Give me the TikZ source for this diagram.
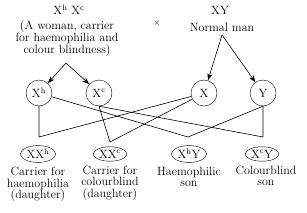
\documentclass[tikz,border=0pt]{standalone}
\usepackage{tikz}
\usetikzlibrary{
  arrows.meta,
  positioning,
  shapes.geometric
}
\newcommand{\allele}[1]{X\textsuperscript{#1}}

\begin{document}
\begin{tikzpicture}[
    >={Stealth[length=7pt, width=5pt]},
    x=1pt, y=-1pt,
    every node/.style={font=\fontsize{12}{11.8}\selectfont},
    gamete/.style={draw, circle, minimum size=26pt, inner sep=0pt},
    zygote/.style={draw, ellipse, inner sep=1pt},
    caption/.style={align=center, inner sep=1pt},
    link/.style={line width=0.6pt},
    pointer/.style={->, line width=0.6pt}
  ]
  \useasboundingbox (0,0) rectangle (307,212);

  %% --- Parents ---
  \node (mothergeno) at (69,10) {\allele{h} \allele{c}};
  \node[caption] (mothertext) at (67,38.5)
    {(A woman, carrier\\for haemophilia and\\colour blindness)};
  \node[font=\small] (cross) at (157,23) {$\times$};
  \node (fathergeno) at (220,10) {XY};
  \node (fathertext) at (222,27) {Normal man};

  \coordinate (msplit) at (66,63);
  \coordinate (fsplit) at (222,35);

  %% --- Gametes ---
  \node[gamete] (Xh) at (39,93)  {\allele{h}};
  \node[gamete] (Xc) at (99,93)  {\allele{c}};
  \node[gamete] (X)  at (204,93) {X};
  \node[gamete] (Y)  at (263,93) {Y};

  \draw[pointer] (msplit) -- (Xh);
  \draw[pointer] (msplit) -- (Xc);
  \draw[pointer] (fsplit) -- (X);
  \draw[pointer] (fsplit) -- (Y);

  %% --- Offspring ---
  \node[zygote] (XXh) at (38,154)  {X\allele{h}};
  \node[zygote] (XXc) at (110,154) {X\allele{c}};
  \node[zygote] (XhY) at (189,154) {\allele{h}Y};
  \node[zygote] (XcY) at (262,154) {\allele{c}Y};

  \node[caption, below=3pt of XXh] (XXhtext) {Carrier for\\haemophilia\\(daughter)};
  \node[caption, below=3pt of XXc] (XXctext) {Carrier for\\colourblind\\(daughter)};
  \node[caption, below=3pt of XhY] (XhYtext) {Haemophilic\\son};
  \node[caption, below=3pt of XcY, xshift=4pt] (XcYtext) {Colourblind\\son};

  %% --- Crosses ---
  \coordinate (jXXh) at (39,137);
  \coordinate (jXXc) at (110,142);
  \coordinate (jXhY) at (188,137);
  \coordinate (jXcY) at (263,137);

  \draw[link] (Xh.south) -- (jXXh) -- (X);
  \draw[link] (Xh) -- (jXhY) -- (Y.south);
  \draw[link] (Xc.south) -- (jXXc) -- (X);
  \draw[link] (Xc.south) -- (jXcY) -- (Y.south);
\end{tikzpicture}
\end{document}
